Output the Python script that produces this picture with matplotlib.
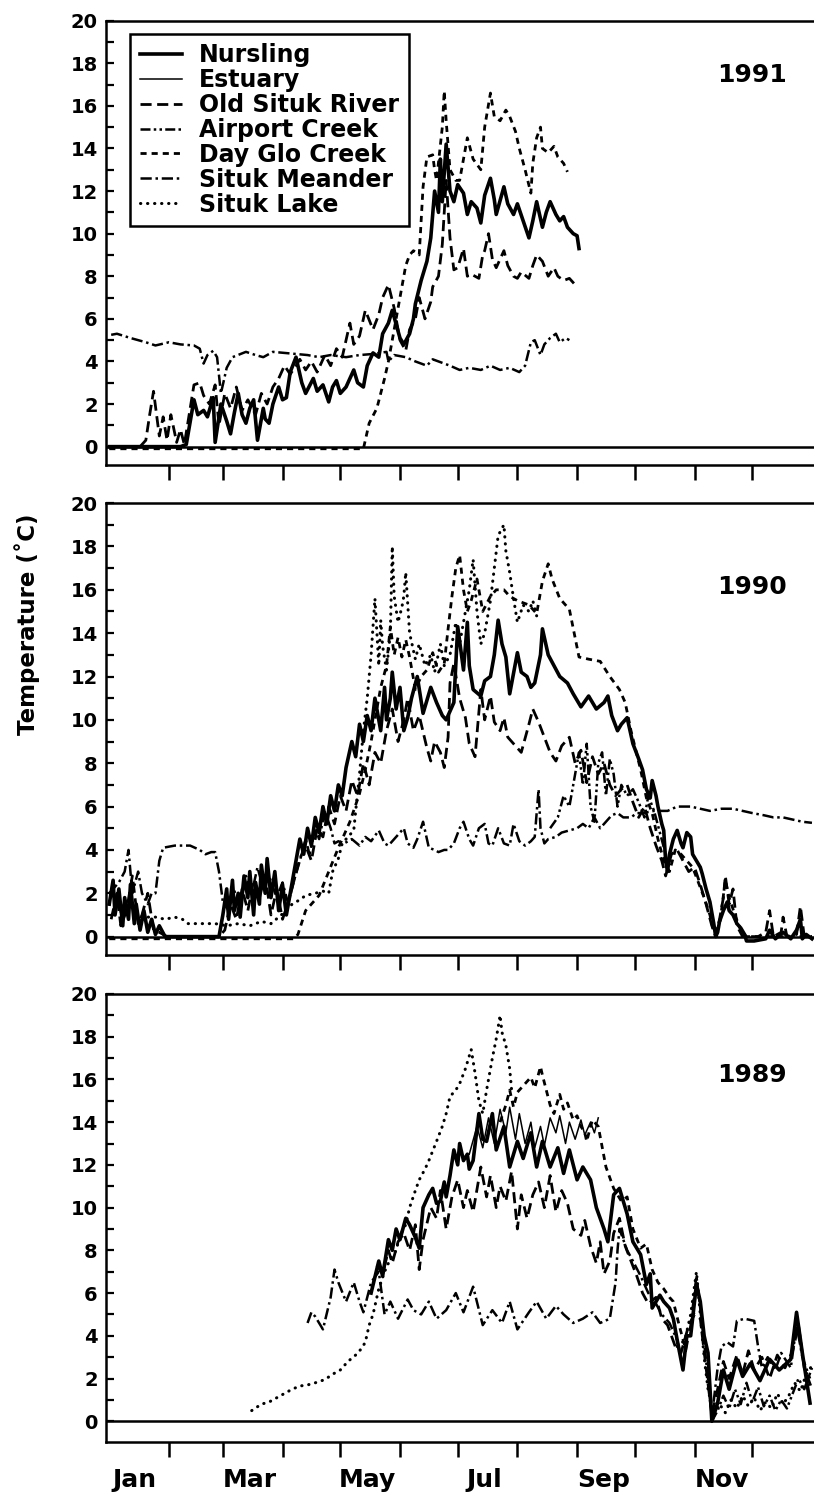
import matplotlib
matplotlib.use("Agg")
import matplotlib.pyplot as plt
from matplotlib.lines import Line2D

plt.rcParams['font.family'] = ['DejaVu Sans']
plt.rcParams['font.weight'] = 'bold'

# ---------------- 1991 (day of year, deg C) ----------------
nurs91_day = [1, 22, 38, 41, 45, 47, 50, 52, 55, 56,
              59, 62, 64, 66, 68, 70, 72, 74, 76, 78,
              81, 82, 84, 86, 89, 91, 93, 95, 98, 101,
              103, 107, 109, 112, 115, 117, 119, 121, 124, 128,
              130, 133, 135, 138, 141, 143, 146, 148, 152, 154,
              157, 159, 160, 163, 166, 168, 170, 172, 173, 174,
              176, 178, 180, 182, 185, 187, 189, 192, 194, 196,
              199, 201, 202, 206, 208, 211, 213, 216, 219, 221,
              223, 226, 228, 230, 233, 235, 237, 239, 242, 244,
              245]
nurs91_t = [0, 0, 0, 0.1, 2.2, 1.5, 1.7, 1.4, 2.3, 0.2,
            2.0, 1.2, 0.6, 1.6, 2.5, 1.5, 1.1, 1.8, 2.2, 0.3,
            1.8, 1.3, 1.1, 2.0, 2.8, 2.2, 2.3, 3.5, 4.2, 3.0,
            2.5, 3.2, 2.6, 2.9, 2.1, 2.8, 3.1, 2.5, 2.8, 3.6,
            3.0, 2.8, 3.8, 4.4, 4.2, 5.3, 5.8, 6.4, 5.1, 4.8,
            5.3, 6.0, 6.7, 7.8, 8.7, 9.8, 12.0, 11.0, 13.5, 11.5,
            14.2, 12.0, 11.5, 12.3, 11.9, 10.9, 11.5, 11.2, 10.5, 11.8,
            12.6, 11.6, 10.9, 12.2, 11.4, 10.9, 11.4, 10.6, 9.8, 10.6,
            11.5, 10.3, 11.0, 11.5, 10.9, 10.6, 10.8, 10.3, 10.0, 9.9,
            9.3]

old91_day = [17, 20, 22, 24, 26, 27, 29, 31, 33, 36,
             38, 40, 45, 48, 50, 53, 56, 58, 61, 64,
             67, 70, 73, 77, 80, 83, 86, 89, 92, 95,
             98, 100, 103, 106, 109, 113, 116, 119, 122, 126,
             128, 131, 134, 138, 141, 143, 146, 149, 152, 155,
             157, 160, 162, 165, 168, 169, 172, 174, 176, 178,
             180, 182, 185, 187, 189, 193, 195, 196, 198, 200,
             202, 206, 208, 211, 213, 215, 219, 221, 223, 226,
             229, 232, 234, 237, 240, 244]
old91_t = [0, 0.3, 1.5, 2.6, 1.2, 0.5, 1.4, 0.3, 1.5, 0.2,
           0.8, 0.1, 2.9, 3.0, 2.4, 2.0, 2.9, 1.0, 2.5, 1.8,
           2.8, 1.7, 2.2, 1.5, 2.5, 2.0, 2.8, 3.2, 3.8, 3.4,
           3.8, 4.1, 3.6, 4.0, 3.5, 4.3, 3.8, 4.6, 4.2, 5.8,
           4.8, 5.2, 6.4, 5.5, 6.2, 7.0, 7.6, 6.5, 5.0, 4.5,
           5.5, 6.0, 7.0, 6.0, 6.8, 7.5, 8.0, 9.5, 12.5, 9.8,
           8.3, 8.4, 9.3, 8.0, 8.1, 7.9, 9.0, 9.2, 10.0, 8.8,
           8.4, 9.2, 8.5, 8.0, 7.9, 8.2, 7.9, 8.5, 9.0, 8.7,
           8.0, 8.4, 8.0, 7.8, 7.9, 7.5]

glo91_day = [1, 133, 136, 140, 142, 144, 146, 149, 152, 155,
             157, 159, 162, 164, 166, 169, 170, 171, 174, 175,
             176, 178, 181, 183, 187, 190, 194, 196, 199, 201,
             204, 207, 209, 212, 214, 217, 220, 221, 223, 225,
             226, 229, 232, 234, 237, 239]
glo91_t = [-0.1, -0.1, 1.1, 1.8, 2.5, 3.2, 4.0, 5.5, 7.0, 8.5,
           9.0, 9.2, 9.0, 12.2, 13.6, 13.7, 13.0, 12.5, 15.0, 16.7,
           15.3, 13.0, 12.5, 12.5, 14.5, 13.5, 13.0, 15.0, 16.6, 15.5,
           15.3, 15.8, 15.5, 14.8, 14.0, 13.0, 11.9, 13.3, 14.5, 15.0,
           14.0, 13.8, 14.1, 13.6, 13.3, 12.9]

mean91_day = [2, 5, 12, 20, 25, 32, 38, 45, 48, 50,
              52, 55, 57, 59, 62, 65, 72, 77, 81, 86,
              92, 98, 104, 110, 116, 124, 131, 138, 145, 146,
              149, 155, 160, 166, 169, 172, 178, 183, 188, 194,
              199, 204, 209, 214, 217, 220, 222, 225, 227, 230,
              233, 235, 238, 240]
mean91_t = [5.25, 5.3, 5.1, 4.9, 4.75, 4.9, 4.8, 4.75, 4.6, 3.9,
            4.3, 4.5, 4.2, 2.5, 3.7, 4.2, 4.45, 4.3, 4.2, 4.45,
            4.4, 4.35, 4.3, 4.2, 4.3, 4.2, 4.3, 4.35, 4.45, 4.0,
            4.3, 4.2, 4.0, 3.8, 4.1, 4.0, 3.8, 3.6, 3.7, 3.6,
            3.8, 3.6, 3.7, 3.5, 3.8, 4.9, 5.0, 4.3, 4.8, 5.1,
            5.3, 4.9, 5.1, 5.0]

# ---------------- 1990 ----------------
nurs90_day = [1, 3, 4, 6, 8, 9, 11, 12, 14, 15,
              17, 19, 21, 23, 25, 27, 30, 43, 58, 60,
              62, 63, 65, 66, 68, 69, 71, 73, 74, 76,
              77, 79, 80, 82, 83, 85, 87, 89, 91, 93,
              95, 97, 100, 102, 104, 106, 108, 110, 112, 114,
              116, 118, 120, 122, 124, 127, 129, 131, 133, 135,
              137, 139, 142, 144, 145, 147, 148, 150, 152, 154,
              156, 158, 161, 164, 168, 171, 174, 176, 180, 182,
              185, 187, 188, 190, 194, 196, 199, 201, 203, 205,
              207, 209, 213, 215, 218, 220, 222, 225, 226, 229,
              232, 235, 239, 242, 246, 250, 254, 258, 260, 262,
              265, 267, 270, 273, 276, 278, 280, 282, 283, 285,
              286, 288, 289, 290, 291, 292, 294, 296, 298, 299,
              301, 303, 304, 306, 308, 309, 311, 313, 315, 316,
              317, 318, 320, 322, 323, 325, 327, 329, 331, 332,
              336, 342, 344, 347, 351, 355, 358, 360, 361, 363,
              366]
nurs90_t = [1.5, 2.6, 1.0, 2.2, 0.5, 1.8, 0.8, 2.4, 0.6, 1.5,
            0.3, 1.2, 0.2, 0.8, 0.1, 0.5, 0, 0, 0, 1.0,
            2.2, 0.8, 2.6, 1.2, 2.0, 0.9, 2.8, 1.8, 3.0, 1.0,
            2.5, 1.5, 3.3, 2.0, 3.6, 1.8, 3.0, 1.2, 2.4, 1.0,
            2.0, 3.0, 4.5, 3.8, 5.0, 4.2, 5.5, 4.8, 6.0, 5.2,
            6.5, 5.8, 7.0, 6.5, 7.8, 9.0, 8.3, 9.8, 9.0, 10.2,
            9.5, 11.0, 9.5, 11.5, 10.0, 11.0, 12.2, 10.5, 11.5, 9.5,
            10.1, 11.0, 12.0, 10.3, 11.5, 10.8, 10.2, 10.0, 10.8, 14.3,
            12.3, 14.5, 12.5, 11.4, 11.1, 11.8, 12.0, 13.0, 14.6, 13.5,
            12.9, 11.2, 13.1, 12.2, 12.0, 11.5, 11.7, 13.0, 14.2, 13.0,
            12.5, 12.0, 11.7, 11.2, 10.6, 11.1, 10.5, 10.8, 11.1, 10.2,
            9.5, 9.8, 10.1, 8.9, 8.2, 7.7, 6.8, 6.4, 7.2, 6.5,
            6.0, 5.2, 4.9, 3.5, 3.0, 3.8, 4.5, 4.9, 4.3, 4.1,
            4.8, 4.6, 3.8, 3.5, 3.2, 2.9, 2.2, 1.6, 0.6, 0,
            0.2, 0.7, 1.2, 1.6, 1.2, 1.0, 0.6, 0.4, 0.1, -0.2,
            -0.2, -0.1, 0.3, -0.1, 0.2, -0.1, 0.3, 0.8, -0.1, 0.1,
            -0.1]

old90_day = [2, 5, 7, 10, 13, 16, 18, 21, 24, 27,
             31, 58, 61, 64, 67, 70, 73, 76, 79, 82,
             85, 88, 91, 94, 97, 100, 103, 106, 109, 112,
             115, 118, 121, 124, 127, 130, 133, 136, 139, 142,
             145, 148, 151, 154, 156, 159, 162, 166, 168, 170,
             173, 175, 177, 178, 180, 183, 186, 188, 191, 194,
             196, 199, 201, 204, 206, 208, 211, 215, 219, 221,
             224, 227, 230, 233, 236, 240, 243, 246, 249, 252,
             255, 258, 261, 264, 267, 270, 273, 276, 279, 282,
             285, 288, 290, 293, 296, 299, 302, 305, 308, 311,
             314, 316, 318, 320, 321, 323, 325, 327, 330, 338,
             342, 344, 346, 350, 351, 353, 358, 360, 362, 366]
old90_t = [0.8, 2.0, 0.5, 1.2, 2.8, 0.6, 1.0, 2.0, 0.3, 0.2,
           0, 0, 0.3, 1.5, 0.8, 2.2, 1.2, 2.6, 1.8, 2.8,
           1.0, 2.2, 0.8, 1.6, 2.6, 3.6, 4.2, 3.5, 5.0, 4.6,
           6.0, 5.2, 6.5, 5.8, 7.2, 6.5, 8.0, 7.0, 8.5, 8.0,
           9.5, 10.5, 9.0, 10.0, 11.0, 9.5, 10.2, 8.7, 8.1, 9.0,
           8.5, 7.8, 9.2, 11.7, 12.6, 11.0, 10.1, 8.9, 8.3, 11.4,
           10.0, 11.1, 9.9, 9.5, 10.1, 9.2, 8.9, 8.5, 9.8, 10.5,
           9.9, 9.2, 8.5, 8.1, 8.8, 9.2, 8.0, 8.6, 7.1, 8.3,
           7.5, 8.0, 7.0, 6.5, 6.8, 7.0, 6.2, 5.5, 6.0, 5.0,
           4.2, 3.5, 2.8, 3.8, 4.0, 3.5, 3.0, 3.2, 2.4, 1.5,
           0.5, 0, 0.8, 1.8, 2.8, 1.5, 2.2, 0.5, 0, 0,
           0.2, 1.2, 0, 0.2, 0.9, 0, 0.1, 1.4, 0, 0]

air90_day = [230, 234, 237, 240, 243, 245, 247, 249, 251, 253,
             255, 257, 259, 261, 263, 265, 267, 270, 273, 276,
             279, 281, 284, 287, 290]
air90_t = [5.0, 5.5, 6.5, 6.0, 7.5, 8.5, 7.0, 8.9, 6.0, 5.3,
           8.0, 8.5, 6.5, 8.2, 7.5, 6.0, 7.0, 6.5, 6.8, 6.2,
           5.5, 6.5, 5.8, 4.8, 3.8]

glo90_day = [1, 97, 99, 103, 110, 115, 120, 126, 131, 134,
             137, 140, 142, 145, 147, 149, 151, 153, 155, 157,
             160, 163, 166, 169, 172, 175, 177, 179, 181, 183,
             185, 187, 189, 192, 195, 199, 202, 206, 209, 213,
             219, 223, 226, 229, 231, 235, 240, 245, 250, 256,
             261, 266, 269, 272, 277, 280, 283, 286, 289, 292,
             295, 298, 301, 304, 307, 310, 313, 315, 318, 321,
             323, 326, 329, 332, 366]
glo90_t = [-0.1, -0.1, 0.1, 1.2, 1.9, 3.0, 4.1, 5.3, 6.6, 7.7,
           9.0, 10.5, 11.5, 12.5, 14.3, 13.0, 13.8, 12.9, 13.7, 12.9,
           11.4, 12.0, 12.3, 13.1, 12.2, 12.6, 14.2, 15.7, 17.0, 17.6,
           16.0, 15.0, 15.5, 16.5, 15.0, 15.7, 16.0, 16.0, 15.7, 15.5,
           15.3, 14.9, 16.4, 17.2, 16.5, 15.6, 15.1, 12.9, 12.8, 12.7,
           12.0, 11.4, 10.8, 9.5, 7.7, 6.4, 5.7, 4.5, 3.5, 3.0,
           4.0, 3.8, 3.5, 3.2, 2.5, 1.8, 1.0, 0.2, 0.5, 2.6,
           1.8, 1.0, 0.3, 0, 0]

mean90_day = [1, 6, 9, 11, 13, 16, 18, 21, 23, 25,
              27, 29, 35, 43, 48, 51, 54, 56, 58, 60,
              63, 65, 69, 72, 75, 78, 81, 84, 88, 91,
              94, 97, 100, 103, 105, 108, 110, 113, 116, 118,
              120, 123, 127, 131, 134, 137, 141, 144, 146, 149,
              152, 154, 156, 159, 161, 164, 167, 170, 172, 175,
              177, 180, 183, 185, 188, 190, 193, 196, 198, 200,
              203, 206, 209, 211, 214, 217, 220, 222, 224, 225,
              227, 229, 233, 236, 240, 244, 247, 250, 253, 256,
              259, 262, 265, 268, 272, 275, 278, 284, 291, 296,
              303, 308, 313, 319, 325, 330, 335, 341, 346, 351,
              356, 361, 366]
mean90_t = [2.0, 2.5, 3.0, 4.0, 2.0, 3.0, 2.0, 1.5, 2.0, 2.0,
            3.5, 4.1, 4.2, 4.2, 4.0, 3.8, 3.9, 3.9, 3.0, 1.6,
            1.2, 2.3, 1.5, 2.8, 2.0, 3.2, 2.2, 2.8, 1.8, 2.5,
            1.5, 2.6, 3.5, 4.5, 3.8, 5.0, 4.5, 5.8, 5.0, 4.3,
            4.4, 4.3, 4.5, 4.2, 4.6, 4.4, 4.9, 4.3, 4.2, 4.5,
            4.8, 5.0, 4.3, 4.1, 4.5, 5.3, 4.1, 4.0, 3.9, 4.0,
            4.0, 4.3, 5.0, 5.3, 4.5, 4.2, 5.0, 5.2, 4.3, 4.2,
            5.0, 4.3, 4.2, 5.2, 4.4, 4.2, 4.4, 4.6, 6.8, 5.0,
            4.3, 4.5, 4.6, 4.8, 4.9, 5.0, 5.2, 5.0, 5.5, 5.0,
            5.3, 5.6, 5.7, 5.5, 5.5, 5.7, 5.7, 5.8, 5.8, 6.0,
            6.0, 5.9, 5.8, 5.9, 5.9, 5.8, 5.7, 5.6, 5.5, 5.5,
            5.4, 5.3, 5.25]

lake90_day = [1, 4, 8, 12, 16, 20, 25, 30, 35, 39,
              42, 47, 52, 56, 62, 68, 74, 80, 85, 89,
              93, 96, 100, 103, 108, 112, 115, 117, 120, 122,
              125, 128, 129, 131, 133, 135, 137, 139, 141, 142,
              143, 145, 147, 148, 149, 151, 153, 154, 155, 157,
              160, 162, 165, 168, 170, 173, 175, 178, 181, 183,
              186, 188, 190, 192, 194, 196, 199, 201, 203, 206,
              207, 209, 211, 213, 216, 219, 221, 223]
lake90_t = [1.5, 1.3, 1.1, 1.0, 0.9, 0.9, 0.9, 0.8, 0.9, 0.8,
            0.6, 0.6, 0.6, 0.6, 0.5, 0.6, 0.5, 0.7, 0.6, 0.9,
            1.2, 1.5, 1.7, 1.9, 2.0, 2.1, 2.0, 3.0, 3.6, 4.3,
            4.6, 4.9, 5.8, 7.5, 9.5, 11.0, 13.0, 15.6, 12.5, 14.6,
            13.4, 12.3, 14.0, 18.0, 15.7, 14.5, 15.2, 15.7, 16.8, 14.0,
            12.8, 13.5, 12.5, 13.0, 12.2, 13.5, 12.5, 13.0, 14.5, 13.5,
            15.0, 16.0, 17.4, 15.0, 13.5, 14.0, 15.5, 17.0, 18.5, 19.0,
            17.8, 16.8, 15.6, 14.5, 15.3, 15.0, 15.5, 14.8]

# ---------------- 1989 ----------------
nurs89_day = [137, 141, 143, 146, 148, 150, 152, 155, 157, 160,
              162, 164, 167, 169, 171, 173, 175, 176, 178, 180,
              182, 183, 185, 187, 188, 190, 193, 195, 197, 200,
              202, 206, 209, 213, 216, 220, 223, 226, 230, 234,
              237, 240, 244, 247, 251, 254, 258, 260, 263, 266,
              270, 273, 277, 280, 282, 283, 287, 289, 292, 294,
              296, 299, 301, 303, 306, 308, 310, 312, 314, 317,
              320, 323, 327, 330, 334, 339, 344, 349, 355, 358,
              361, 365]
nurs89_t = [6.0, 7.5, 6.8, 8.5, 8.0, 9.0, 8.5, 9.5, 9.2, 8.6,
            8.1, 10.0, 10.6, 10.9, 10.2, 10.3, 11.2, 10.5, 11.5, 12.7,
            12.0, 13.0, 12.2, 12.5, 11.8, 12.2, 14.4, 13.2, 13.1, 14.4,
            12.7, 13.8, 11.9, 13.1, 12.3, 13.5, 11.9, 13.1, 11.9, 12.8,
            11.6, 12.7, 11.3, 11.9, 11.3, 10.0, 9.0, 8.4, 10.6, 10.9,
            9.7, 8.4, 7.8, 6.4, 6.9, 5.3, 5.9, 5.6, 5.3, 4.8,
            3.8, 2.4, 4.0, 4.0, 6.4, 5.6, 4.0, 3.2, 0, 0.85,
            2.4, 1.5, 2.9, 2.1, 2.7, 1.9, 2.9, 2.4, 2.9, 5.1,
            3.2, 0.85]

est89_day = [188, 192, 195, 198, 201, 204, 207, 209, 212, 214,
             217, 220, 222, 225, 227, 230, 233, 235, 238, 240,
             243, 246, 248, 251, 253, 255]
est89_t = [12.5, 13.8, 12.8, 14.2, 13.0, 14.6, 13.5, 14.7, 13.2, 14.4,
           13.0, 14.0, 12.8, 13.8, 12.9, 14.2, 13.5, 14.3, 13.0, 14.0,
           13.2, 14.1, 13.4, 14.0, 13.5, 14.2]

old89_day = [140, 143, 146, 148, 151, 154, 157, 160, 162, 164,
             168, 171, 173, 176, 179, 182, 185, 187, 190, 194,
             197, 199, 202, 204, 207, 210, 213, 215, 218, 221,
             224, 227, 230, 233, 236, 239, 242, 246, 248, 251,
             254, 256, 258, 261, 263, 266, 269, 272, 275, 278,
             281, 285, 288, 291, 295, 298, 302, 305, 308, 311,
             314, 317, 320, 323, 327, 330, 333, 336, 340, 344,
             348, 352, 356, 359, 362, 366]
old89_t = [7.3, 6.9, 8.0, 7.4, 8.4, 8.8, 8.0, 9.2, 7.1, 8.5,
           10.0, 9.5, 10.8, 9.0, 10.5, 11.3, 10.0, 10.8, 9.8, 11.9,
           10.5, 11.5, 10.0, 11.0, 10.3, 11.7, 9.0, 10.6, 9.5, 10.6,
           11.2, 10.0, 11.5, 9.8, 10.8, 10.2, 9.0, 8.7, 9.4, 8.2,
           7.4, 8.4, 6.9, 7.5, 8.8, 9.5, 8.2, 7.5, 6.8, 6.0,
           5.5, 5.8, 4.8, 4.5, 3.5, 3.2, 4.5, 5.0, 4.8, 2.5,
           0.3, 1.5, 2.8, 2.0, 3.1, 2.2, 3.3, 2.4, 3.0, 2.0,
           3.1, 2.5, 3.3, 4.5, 2.5, 1.5]

air89_day = [314, 317, 320, 323, 326, 329, 332, 335, 338, 341,
             344, 347, 350, 353, 356, 359, 362, 366]
air89_t = [0.0, 0.5, 1.2, 0.6, 1.5, 0.8, 1.8, 0.9, 1.6, 0.7,
           1.2, 0.5, 1.0, 0.6, 1.3, 2.0, 1.5, 2.5]

glo89_day = [204, 207, 209, 211, 213, 214, 217, 220, 222, 225,
             226, 228, 230, 232, 234, 235, 237, 239, 242, 244,
             246, 248, 249, 251, 252, 255, 259, 263, 267, 270,
             273, 277, 280, 283, 286, 289, 292, 294, 297, 300]
glo89_t = [14.0, 14.8, 15.5, 14.7, 15.4, 15.5, 15.8, 16.1, 15.6, 16.6,
           16.2, 15.5, 14.8, 14.4, 15.0, 15.3, 14.6, 14.9, 14.1, 14.3,
           13.8, 13.5, 13.1, 13.8, 14.1, 13.8, 11.9, 10.9, 10.3, 10.5,
           9.0, 8.1, 8.3, 7.1, 6.5, 6.2, 5.8, 5.6, 4.5, 3.5]

mean89_day = [104, 106, 108, 112, 116, 118, 120, 124, 128, 131,
              133, 137, 141, 144, 147, 151, 156, 159, 163, 167,
              171, 176, 181, 185, 190, 195, 200, 205, 209, 213,
              219, 223, 228, 233, 237, 242, 247, 252, 256, 261,
              264, 265, 266, 270, 273, 277, 281, 285, 288, 292,
              296, 299, 303, 306, 309, 312, 314, 317, 319, 322,
              325, 327, 331, 336, 338, 340, 343, 347, 350, 355,
              358, 361, 365]
mean89_t = [4.6, 5.1, 4.9, 4.3, 5.8, 7.1, 6.5, 5.6, 6.5, 5.6,
            5.1, 6.5, 7.0, 5.0, 5.6, 4.8, 5.7, 5.2, 5.0, 5.6,
            4.8, 5.2, 6.0, 5.1, 6.3, 4.5, 5.2, 4.6, 5.6, 4.3,
            5.1, 5.6, 4.8, 5.4, 5.0, 4.6, 4.8, 5.1, 4.6, 4.8,
            6.5, 8.0, 9.0, 8.0, 7.5, 6.8, 6.0, 5.5, 5.0, 4.6,
            3.8, 2.6, 4.5, 6.8, 4.5, 2.0, 0.2, 2.5, 3.5, 3.7,
            3.5, 4.7, 4.8, 4.7, 3.5, 2.5, 3.0, 2.4, 3.2, 2.5,
            4.5, 3.0, 2.0]

lake89a_day = [75, 80, 84, 88, 92, 96, 100, 104, 108, 113,
               117, 121, 125, 129, 132, 134, 136, 138, 141, 144,
               147, 150, 152, 155, 157, 160, 162, 165, 167, 171,
               174, 176, 178, 181, 183, 186, 189, 191, 193, 195,
               197, 198, 200, 202, 204, 205, 207, 209, 210]
lake89a_t = [0.5, 0.8, 0.9, 1.1, 1.3, 1.5, 1.65, 1.7, 1.8, 1.95,
             2.2, 2.4, 2.8, 3.1, 3.4, 3.7, 4.5, 5.0, 6.2, 7.0,
             7.6, 8.0, 8.7, 9.2, 10.0, 10.8, 11.3, 11.8, 12.2, 13.1,
             13.8, 14.4, 15.2, 15.5, 15.8, 16.5, 17.4, 16.3, 15.0, 14.4,
             15.5, 16.0, 17.0, 17.9, 19.0, 18.2, 17.6, 16.5, 15.5]
lake89b_day = [296, 300, 303, 306, 308, 310, 312, 315, 318, 321,
               324, 327, 330, 333, 336, 339, 342, 345, 348, 351,
               354, 357, 360, 363, 366]
lake89b_t = [3.5, 3.8, 5.0, 7.0, 5.0, 3.0, 1.5, 0.3, 0.8, 0.4,
             1.0, 0.6, 1.2, 0.7, 1.1, 0.5, 0.9, 0.6, 1.3, 0.8,
             1.2, 1.8, 1.4, 2.2, 2.6]

names = ['Nursling', 'Estuary', 'Old Situk River', 'Airport Creek',
         'Day Glo Creek', 'Situk Meander', 'Situk Lake']
month_starts = [32, 60, 91, 121, 152, 182, 213, 244, 274, 305, 335]
month_mid = [14, 74, 135, 196, 258, 319]
month_labels = ['Jan', 'Mar', 'May', 'Jul', 'Sep', 'Nov']

styles = {
    'Nursling': dict(lw=2.6, ls='-'),
    'Estuary': dict(lw=1.1, ls='-'),
    'Old Situk River': dict(lw=2.0, ls=(0, (4.0, 2.0))),
    'Airport Creek': dict(lw=1.8, ls=(0, (4.0, 1.3, 1.0, 1.3, 1.0, 1.3))),
    'Day Glo Creek': dict(lw=2.0, ls=(0, (2.2, 1.8))),
    'Situk Meander': dict(lw=1.8, ls=(0, (4.5, 1.5, 1.0, 1.5))),
    'Situk Lake': dict(lw=2.2, ls=(0, (0.1, 2.2)), dash_capstyle='round'),
}

panels = [
    ([0.1302, 0.6892, 0.9004, 0.2970], -0.86, '1991', 0.878, [
        (nurs91_day, nurs91_t, 'Nursling'),
        (old91_day, old91_t, 'Old Situk River'),
        (glo91_day, glo91_t, 'Day Glo Creek'),
        (mean91_day, mean91_t, 'Situk Meander')]),
    ([0.1302, 0.3616, 0.9004, 0.3021], -0.85, '1990', 0.814, [
        (nurs90_day, nurs90_t, 'Nursling'),
        (old90_day, old90_t, 'Old Situk River'),
        (air90_day, air90_t, 'Airport Creek'),
        (glo90_day, glo90_t, 'Day Glo Creek'),
        (mean90_day, mean90_t, 'Situk Meander'),
        (lake90_day, lake90_t, 'Situk Lake')]),
    ([0.1302, 0.0361, 0.9004, 0.2995], -0.97, '1989', 0.819, [
        (nurs89_day, nurs89_t, 'Nursling'),
        (est89_day, est89_t, 'Estuary'),
        (old89_day, old89_t, 'Old Situk River'),
        (air89_day, air89_t, 'Airport Creek'),
        (glo89_day, glo89_t, 'Day Glo Creek'),
        (mean89_day, mean89_t, 'Situk Meander'),
        (lake89a_day, lake89a_t, 'Situk Lake'),
        (lake89b_day, lake89b_t, 'Situk Lake')]),
]

fig = plt.figure(figsize=(8.14, 14.96), dpi=100)
axes = []
for rect, ybot, year, yy, series in panels:
    ax = fig.add_axes(rect)
    axes.append(ax)
    for d, t, name in series:
        ax.plot(d, t, color='black', solid_joinstyle='round', **styles[name])
    ax.axhline(0, color='black', lw=1.8)
    ax.set_xlim(-0.7, 380)
    ax.set_ylim(ybot, 20)
    ax.set_yticks(range(0, 21, 2))
    ax.set_yticks(range(0, 21), minor=True)
    ax.tick_params(axis='y', which='both', direction='in', length=6, width=1.6,
                   labelsize=14, pad=6)
    ax.set_xticks(month_starts)
    ax.tick_params(axis='x', which='major', direction='out', length=11, width=1.8,
                   labelbottom=False)
    for s in ax.spines.values():
        s.set_linewidth(1.8)
    ax.text(0.882, yy, year, transform=ax.transAxes, ha='center', va='center',
            fontsize=18, fontweight='bold')

# month names on the bottom panel only
axes[-1].set_xticks(month_mid, minor=True)
axes[-1].set_xticklabels(month_labels, minor=True, fontsize=18, fontweight='bold')
axes[-1].tick_params(axis='x', which='minor', length=0, pad=19)

handles = [Line2D([], [], color='black', **styles[n]) for n in names]
leg = axes[0].legend(handles, names, loc='upper left', bbox_to_anchor=(0.033, 0.971),
                     borderaxespad=0, frameon=True, fancybox=False, framealpha=1,
                     edgecolor='black', prop={'weight': 'bold', 'size': 17},
                     handlelength=1.8, handletextpad=0.72, labelspacing=0.04,
                     borderpad=0.4)
leg.get_frame().set_linewidth(1.8)

fig.text(27 / 814, 1 - 624 / 1496, 'Temperature (˚C)', rotation=90,
         ha='center', va='center', fontsize=16.5, fontweight='bold')

fig.savefig('out.png', dpi=100)
